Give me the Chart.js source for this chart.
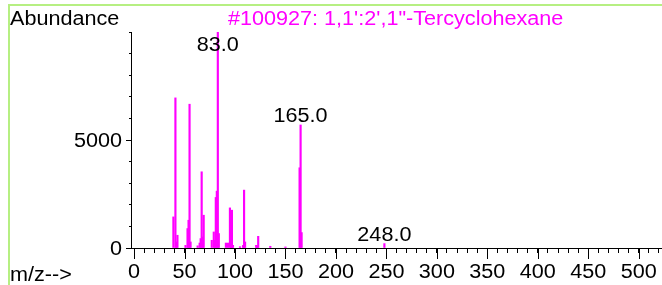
<!DOCTYPE html>
<html>
<head>
<meta charset="utf-8">
<script src="https://cdn.jsdelivr.net/npm/chart.js@4.4.1/dist/chart.umd.min.js"></script>
<style>
  html, body { margin: 0; padding: 0; background: #fff; }
  #wrap { width: 662px; height: 285px; position: relative; }
</style>
</head>
<body>
<div id="wrap"><canvas id="myChart"></canvas></div>
<script>
// spectrum data (m/z and abundance)
var mz = [39, 41, 42, 43, 51, 53, 54, 55, 56, 63, 65, 66, 67, 68, 69, 77, 79, 80, 81, 82, 83, 84,
          91, 93, 95, 96, 97, 98, 105, 108, 109, 110, 121, 122, 123, 135, 150, 164, 165, 166, 248];
var abundance = [1440, 6950, 280, 590, 120, 900, 1286, 6657, 280, 100, 230, 436, 3528, 510, 1518, 357, 743, 357, 2340, 2632, 10000, 668,
                 230, 230, 1857, 900, 1750, 125, 60, 120, 2680, 280, 125, 100, 540, 80, 50, 3714, 5696, 714, 204];

// labelled peaks
var peakMz = [83, 165, 248];
var peakText = ['83.0', '165.0', '248.0'];

// tick labels
var xTickLabels = [0, 50, 100, 150, 200, 250, 300, 350, 400, 450, 500];
var yTickLabels = [0, 5000];

var title = '#100927: 1,1\':2\',1"-Tercyclohexane';
var FONT = '20px "Liberation Sans", Arial, sans-serif';
var SX = 1.08; // text in the original is a bit wider

function txt(ctx, s, x, y, align, color) {
    ctx.save();
    ctx.font = FONT;
    ctx.fillStyle = color || '#000';
    ctx.textAlign = align;
    ctx.textBaseline = 'alphabetic';
    ctx.translate(x, y);
    ctx.scale(SX, 1);
    ctx.fillText(s, 0, 0);
    ctx.restore();
}

var extras = {
    id: 'extras',
    beforeDraw: function (chart) {
        var ctx = chart.ctx;
        // green frame
        ctx.save();
        ctx.strokeStyle = '#b6ef82';
        ctx.lineWidth = 2;
        ctx.beginPath();
        ctx.moveTo(9, 285);
        ctx.lineTo(9, 5);
        ctx.lineTo(662, 5);
        ctx.stroke();
        ctx.restore();
    },
    afterDraw: function (chart) {
        var ctx = chart.ctx;
        var xs = chart.scales.x, ys = chart.scales.y;
        var area = chart.chartArea;

        // major ticks
        ctx.save();
        ctx.strokeStyle = '#000';
        ctx.lineWidth = 1;
        ctx.beginPath();
        xTickLabels.forEach(function (v) {
            var px = Math.round(xs.getPixelForValue(v)) + 0.5;
            ctx.moveTo(px, area.bottom);
            ctx.lineTo(px, area.bottom + 11);
        });
        yTickLabels.forEach(function (v) {
            var py = Math.round(ys.getPixelForValue(v)) + 0.5;
            ctx.moveTo(area.left - 5, py);
            ctx.lineTo(area.left, py);
        });
        ctx.stroke();
        ctx.restore();

        xTickLabels.forEach(function (v) {
            txt(ctx, String(v), xs.getPixelForValue(v), 278, 'center');
        });
        yTickLabels.forEach(function (v) {
            txt(ctx, String(v), 122, ys.getPixelForValue(v) + 7, 'right');
        });

        txt(ctx, 'Abundance', 10, 25, 'left');
        txt(ctx, title, 228, 25, 'left', '#ff00ff');
        txt(ctx, 'm/z-->', 10, 281, 'left');

        peakMz.forEach(function (m, i) {
            var y = ys.getPixelForValue(abundance[mz.indexOf(m)]) - 3;
            y = Math.max(y, area.top + 19);
            txt(ctx, peakText[i], xs.getPixelForValue(m), y, 'center');
        });
    }
};

var points = mz.map(function (m, i) { return { x: m, y: abundance[i] }; });

var ctx = document.getElementById('myChart').getContext('2d');
var chart = new Chart(ctx, {
    type: 'bar',
    data: {
        datasets: [{
            data: points,
            backgroundColor: '#ff00ff',
            borderWidth: 0,
            barThickness: 1.5
        }]
    },
    options: {
        responsive: true,
        maintainAspectRatio: false,
        animation: false,
        layout: { padding: { top: 32, left: 0, right: 0, bottom: 0 } },
        plugins: { legend: { display: false }, tooltip: { enabled: false } },
        scales: {
            x: {
                type: 'linear',
                min: -3,
                max: 523,
                offset: false,
                afterFit: function (s) { s.height = 37; },
                ticks: { display: false, stepSize: 10, includeBounds: false },
                grid: { offset: false, drawOnChartArea: false, drawTicks: true, tickLength: 5, color: '#000' },
                border: { color: '#000', width: 1 }
            },
            y: {
                min: 0,
                max: 10000,
                afterFit: function (s) { s.width = 131; },
                ticks: { display: false, stepSize: 1000 },
                grid: { drawOnChartArea: false, drawTicks: true, tickLength: 2, color: '#000' },
                border: { color: '#000', width: 1 }
            }
        }
    },
    plugins: [extras]
});
</script>
</body>
</html>
